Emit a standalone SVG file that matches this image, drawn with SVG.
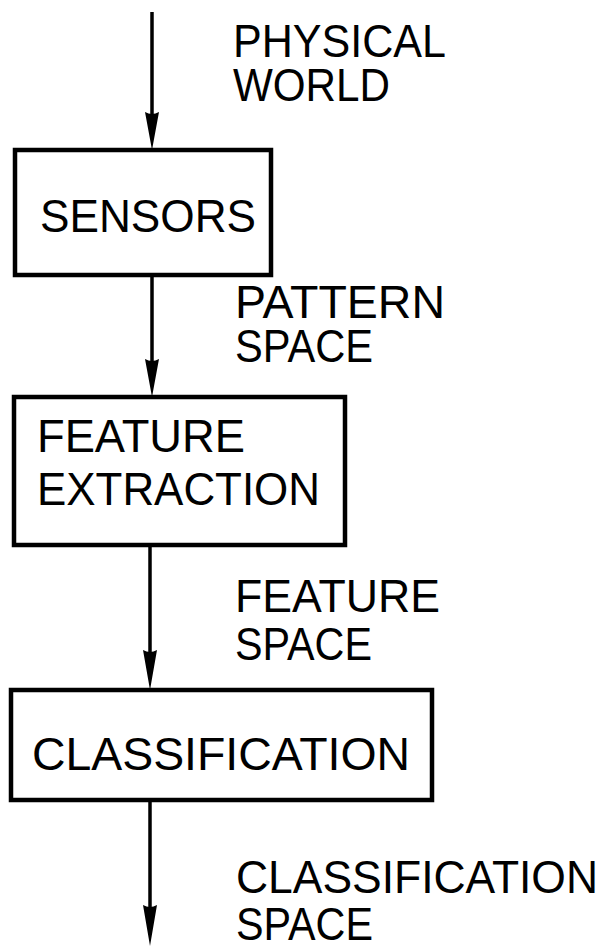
<svg xmlns="http://www.w3.org/2000/svg" width="604" height="948" viewBox="0 0 604 948">
<style>
text{font-family:"Liberation Sans",Arial,sans-serif;font-size:47px;fill:#000}
.box{fill:#fff;stroke:#000;stroke-width:4.5}
.ln{stroke:#000;stroke-width:3.5;fill:none}
.ah{fill:#000}
</style>
<rect width="604" height="948" fill="#fff"/>
<g id="connectors">
<line class="ln" x1="152" y1="12" x2="152" y2="120"/>
<path class="ah" d="M145,112 Q152,116 159,112 L152,150 Z"/>
<line class="ln" x1="152" y1="275" x2="152" y2="365"/>
<path class="ah" d="M145,359 Q152,363 159,359 L152,397 Z"/>
<line class="ln" x1="150" y1="545" x2="150" y2="655"/>
<path class="ah" d="M143,650 Q150,654 157,650 L150,690 Z"/>
<line class="ln" x1="150" y1="800" x2="150" y2="910"/>
<path class="ah" d="M143,905 Q150,909 157,905 L150,946 Z"/>
</g>
<g id="label-physical-world"><text x="233" y="57" textLength="213" lengthAdjust="spacingAndGlyphs">PHYSICAL</text><text x="233" y="101" textLength="157" lengthAdjust="spacingAndGlyphs">WORLD</text></g>
<g id="sensors"><rect class="box" x="15" y="150" width="256" height="125"/><text x="40" y="232" textLength="216" lengthAdjust="spacingAndGlyphs">SENSORS</text></g>
<g id="label-pattern-space"><text x="235" y="318" textLength="210" lengthAdjust="spacingAndGlyphs">PATTERN</text><text x="235" y="362" textLength="138" lengthAdjust="spacingAndGlyphs">SPACE</text></g>
<g id="feature-extraction"><rect class="box" x="14" y="397" width="331" height="148"/><text x="37" y="452" textLength="208" lengthAdjust="spacingAndGlyphs">FEATURE</text><text x="37" y="505" textLength="283" lengthAdjust="spacingAndGlyphs">EXTRACTION</text></g>
<g id="label-feature-space"><text x="235" y="612" textLength="205" lengthAdjust="spacingAndGlyphs">FEATURE</text><text x="235" y="660" textLength="137" lengthAdjust="spacingAndGlyphs">SPACE</text></g>
<g id="classification"><rect class="box" x="11" y="690" width="421" height="110"/><text x="32" y="770" textLength="378" lengthAdjust="spacingAndGlyphs">CLASSIFICATION</text></g>
<g id="label-classification-space"><text x="236" y="893" textLength="362" lengthAdjust="spacingAndGlyphs">CLASSIFICATION</text><text x="236" y="940" textLength="137" lengthAdjust="spacingAndGlyphs">SPACE</text></g>
</svg>
